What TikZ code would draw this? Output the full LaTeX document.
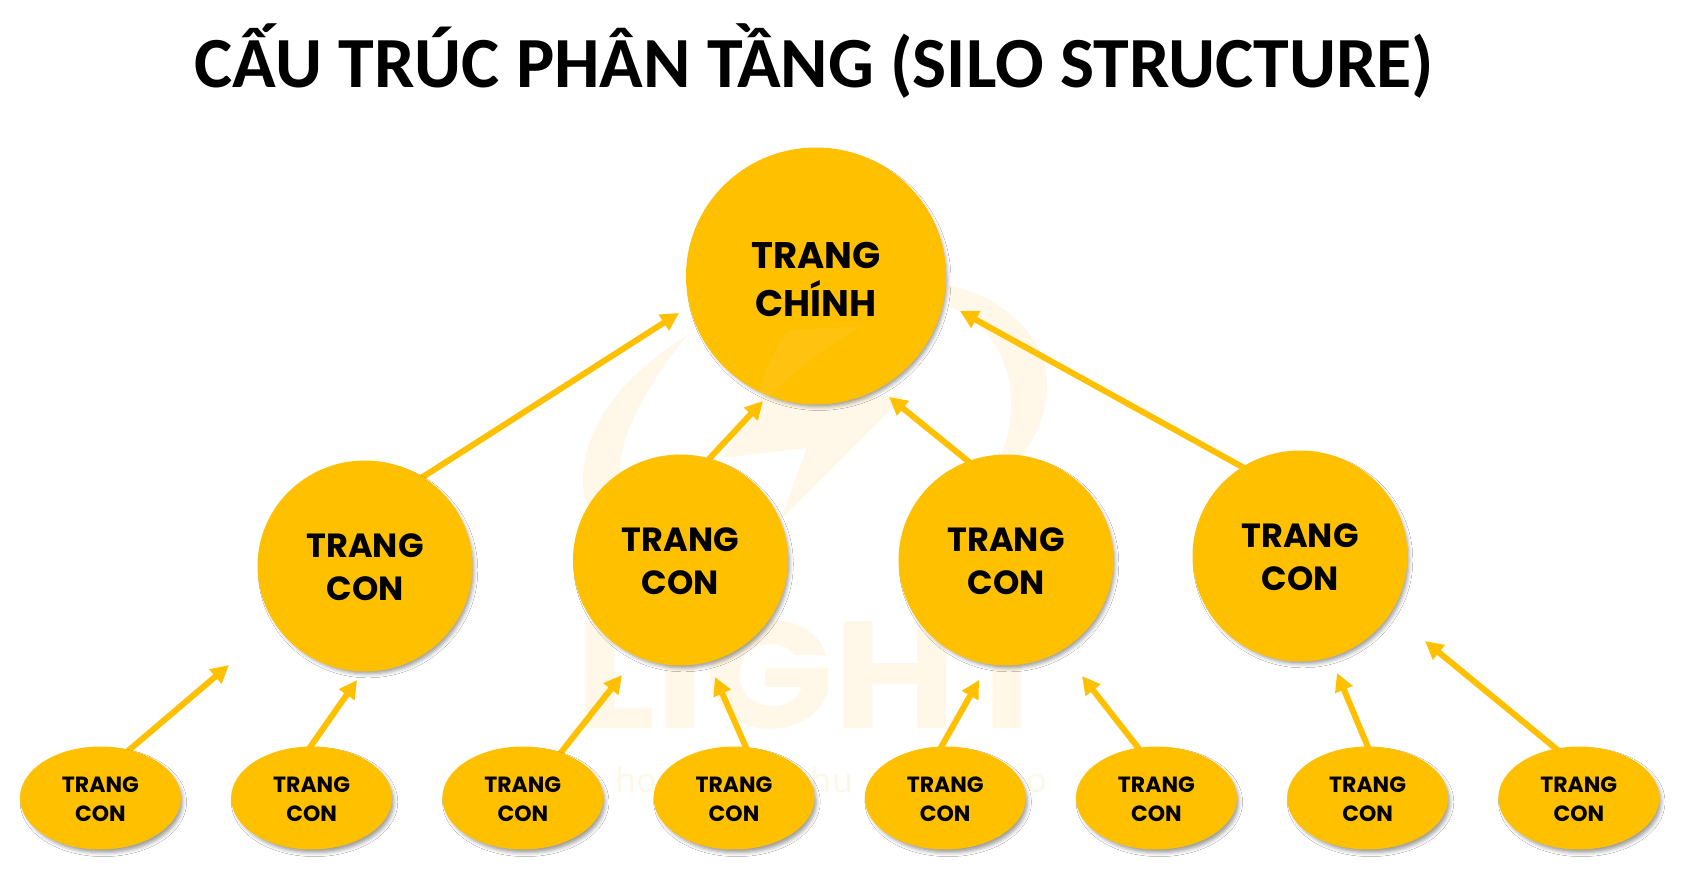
\documentclass[tikz,border=0pt]{standalone}
\usepackage{fontspec}
\setmainfont{Carlito}
\newfontfamily\popfont{Poppins}
\newfontfamily\notofont{Noto Sans}
\usetikzlibrary{arrows.meta,shapes.geometric,shadows.blur,backgrounds}
\definecolor{gold}{HTML}{FFC000}
\definecolor{wm}{HTML}{FFF8E8}
\newcommand\liftroot{\rule{0pt}{33pt}}
\newcommand\liftmid{\rule{0pt}{27pt}}
\newcommand\liftleaf{\rule{0pt}{18pt}}
\tikzset{
  bubble/.style={ellipse,fill=gold,draw=none,inner sep=0pt,align=center,text=black,
    blur shadow={shadow xshift=3pt,shadow yshift=-4pt,shadow blur radius=4pt,shadow scale=0.985,shadow opacity=40}},
  rootnode/.style={bubble,minimum width=260pt,minimum height=257pt,
    font=\popfont\bfseries\fontsize{37}{48}\selectfont},
  midnode/.style={bubble,minimum width=215pt,minimum height=211pt,
    font=\popfont\bfseries\fontsize{33.5}{43}\selectfont},
  leafnode/.style={bubble,minimum width=161pt,minimum height=103pt,
    font=\popfont\bfseries\fontsize{22}{29}\selectfont},
  link/.style={draw=gold,line width=6pt,shorten <=-3pt,-{Triangle[length=18pt,width=18pt]}},
  wmtext/.style={text=wm,inner sep=0pt},
  wmshape/.style={fill=wm,draw=none}
}
\begin{document}
\begin{tikzpicture}[x=1pt,y=-1pt]
\useasboundingbox (0,0) rectangle (1698,896);

\node[font=\bfseries\fontsize{72}{80}\selectfont,anchor=base,inner sep=0pt] (title) at (814.5,88) {CẤU TRÚC PHÂN TẦNG (SILO STRUCTURE)};

% main nodes
\node[rootnode] (root) at (816,276) {\liftroot TRANG\\CHÍNH};
\node[midnode] (m1) at (365,566) {\liftmid TRANG\\CON};
\node[midnode] (m2) at (680.5,560) {\liftmid TRANG\\CON};
\node[midnode] (m3) at (1006,560) {\liftmid TRANG\\CON};
\node[midnode] (m4) at (1300,556) {\liftmid TRANG\\CON};
\node[leafnode] (l1) at (100.4,798) {\liftleaf TRANG\\CON};
\node[leafnode] (l2) at (311.6,798) {\liftleaf TRANG\\CON};
\node[leafnode] (l3) at (522.8,798) {\liftleaf TRANG\\CON};
\node[leafnode] (l4) at (734,798) {\liftleaf TRANG\\CON};
\node[leafnode] (l5) at (945.2,798) {\liftleaf TRANG\\CON};
\node[leafnode] (l6) at (1156.4,798) {\liftleaf TRANG\\CON};
\node[leafnode] (l7) at (1367.6,798) {\liftleaf TRANG\\CON};
\node[leafnode] (l8) at (1578.8,798) {\liftleaf TRANG\\CON};

% free ends of the arrows
\coordinate (ta) at (679,313);
\coordinate (tb) at (763,401);
\coordinate (tc) at (889,397);
\coordinate (td) at (960,311);
\coordinate (t1) at (229,665);
\coordinate (t2) at (357,680);
\coordinate (t3) at (622,675);
\coordinate (t4) at (715,677);
\coordinate (t5) at (979,680);
\coordinate (t6) at (1082,676);
\coordinate (t7) at (1337,673);
\coordinate (t8) at (1425,641);

% faint light streak over the main circle
\fill[white,opacity=.06] (790,330) -- (862,326) .. controls (820,350) and (790,375) .. (768,398) -- (758,396) .. controls (765,370) and (775,345) .. (790,330) -- cycle;

\begin{scope}[on background layer]
  \fill[white] (0,0) rectangle (1698,896);
  % watermark
  \fill[wmshape] (688,335) .. controls (630,370) and (585,420) .. (583,477) .. controls (582,495) and (588,510) .. (597,525) -- (625,510) .. controls (615,480) and (618,445) .. (640,405) .. controls (652,382) and (670,355) .. (688,335) -- cycle;
  \fill[wmshape] (947,285) .. controls (1000,295) and (1047,335) .. (1047,385) .. controls (1047,415) and (1035,440) .. (1017,462) -- (1000,458) .. controls (1012,430) and (1012,405) .. (1010,385) .. controls (1003,345) and (980,320) .. (950,307) -- cycle;
  \fill[wmshape] (905,395) -- (780,520) -- (807,448) -- (722,458) -- (760,395) -- (800,400) -- cycle;
  \node[wmtext,font=\popfont\bfseries\fontsize{152}{160}\selectfont] (wmlogo) at (816,675) {\scalebox{1.11}[1]{LIGHT}};
  \node[wmtext,anchor=base,font=\notofont\bfseries\fontsize{34}{40}\selectfont] (wmsa) at (636,792) {ho};
  \node[wmtext,anchor=base,font=\notofont\bfseries\fontsize{34}{40}\selectfont] (wmsb) at (832,792) {hu};
  \node[wmtext,anchor=base,font=\notofont\bfseries\fontsize{34}{40}\selectfont] (wmsc) at (1037,792) {o};
  % arrows
  \draw[link] (m1.57.7) -- (ta);
  \draw[link] (m2.74.9) -- (tb);
  \draw[link] (m3.111.2) -- (tc);
  \draw[link] (m4.123.7) -- (td);
  \draw[link] (l1.59.7) -- (t1);
  \draw[link] (l2.91.8) -- (t2);
  \draw[link] (l3.50.4) -- (t3);
  \draw[link] (l4.77.8) -- (t4);
  \draw[link] (l5.94.7) -- (t5);
  \draw[link] (l6.110.8) -- (t6);
  \draw[link] (l7.90) -- (t7);
  \draw[link] (l8.115) -- (t8);
\end{scope}
\end{tikzpicture}
\end{document}
